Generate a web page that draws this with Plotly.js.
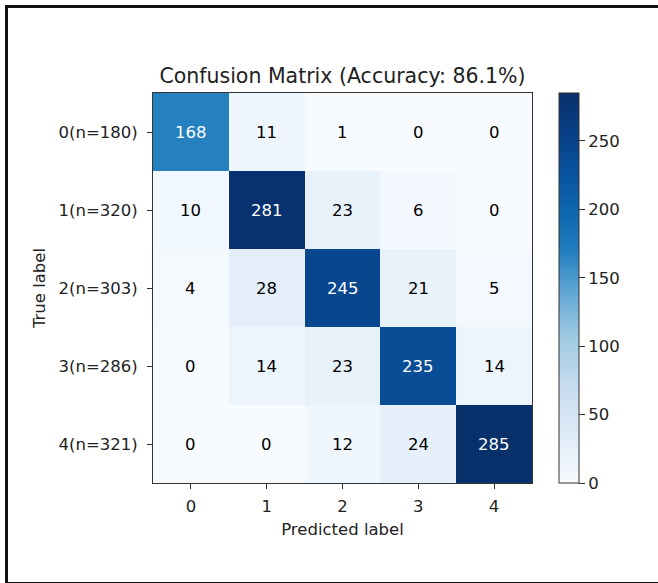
<!DOCTYPE html>
<html>
<head>
<meta charset="utf-8">
<script src="https://cdn.plot.ly/plotly-3.0.1.min.js"></script>
<style>
  html, body { margin: 0; padding: 0; background: #fff; }
  #wrap { position: relative; width: 658px; height: 583px; }
  #frame { position: absolute; left: 5px; top: 5px; width: 660px; height: 574px;
           border-left: 3px solid #111; border-top: 3px solid #111; border-bottom: 3px solid #111;
           pointer-events: none; z-index: 10; }
  #chart { position: absolute; left: 0; top: 0; width: 658px; height: 583px; }
</style>
</head>
<body>
<div id="wrap">
  <div id="chart"></div>
  <div id="frame"></div>
</div>
<script>
// Data
const predictedLabels = ["0", "1", "2", "3", "4"];
const trueLabels = ["0(n=180)", "1(n=320)", "2(n=303)", "3(n=286)", "4(n=321)"];
const row0 = [168, 11, 1, 0, 0];
const row1 = [10, 281, 23, 6, 0];
const row2 = [4, 28, 245, 21, 5];
const row3 = [0, 14, 23, 235, 14];
const row4 = [0, 0, 12, 24, 285];
const matrix = [row0, row1, row2, row3, row4];
const titleText = "Confusion Matrix (Accuracy: 86.1%)";
const colorbarTicks = [0, 50, 100, 150, 200, 250];

const blues = [
  [0.0, "#f7fbff"], [0.125, "#deebf7"], [0.25, "#c6dbef"], [0.375, "#9ecae1"],
  [0.5, "#5ba3d3"], [0.6, "#1f7cbd"], [0.7, "#0e66ad"], [0.8, "#08519c"],
  [0.9, "#083f85"], [1.0, "#08306b"]
];

let zmax = 0;
matrix.forEach(r => r.forEach(v => { if (v > zmax) zmax = v; }));
const thresh = zmax / 2;

const FONT = "DejaVu Sans";
const FS = 16.5;
const TXT = "#222";

const annotations = [];
matrix.forEach((r, i) => r.forEach((v, j) => {
  annotations.push({
    x: predictedLabels[j], y: trueLabels[i], xref: "x", yref: "y",
    text: String(v), showarrow: false,
    font: { family: FONT, size: FS, color: v > thresh ? "#ffffff" : "#000000" }
  });
}));

const trace = {
  type: "heatmap",
  x: predictedLabels,
  y: trueLabels,
  z: matrix,
  zmin: 0, zmax: zmax,
  colorscale: blues,
  xgap: 0, ygap: 0,
  hoverinfo: "skip",
  colorbar: {
    x: 1.071, xanchor: "left", xref: "paper",
    y: 0.5, yanchor: "middle", len: 1, lenmode: "fraction",
    thickness: 20, thicknessmode: "pixels",
    outlinewidth: 1, outlinecolor: "#333",
    tickvals: colorbarTicks, ticks: "outside", ticklen: 6, tickwidth: 1, tickcolor: "#333",
    tickfont: { family: FONT, size: FS, color: TXT },
    xpad: 0, ypad: 0
  }
};

const layout = {
  width: 658, height: 583,
  margin: { l: 153, r: 126, t: 93, b: 100, pad: 0 },
  paper_bgcolor: "#ffffff", plot_bgcolor: "#ffffff",
  title: {
    text: titleText, font: { family: FONT, size: 20.5, color: TXT },
    x: 0.5, xanchor: "center", xref: "paper", y: 1 - 76 / 583, yanchor: "middle"
  },
  xaxis: {
    type: "category", side: "bottom",
    title: { text: "Predicted label", font: { family: FONT, size: FS, color: TXT }, standoff: 8 },
    tickfont: { family: FONT, size: FS, color: TXT },
    ticks: "outside", ticklen: 5, tickwidth: 1, tickcolor: "#333", ticklabelstandoff: 3,
    showline: true, linecolor: "#333", linewidth: 1, mirror: true,
    showgrid: false, zeroline: false, fixedrange: true
  },
  yaxis: {
    type: "category", autorange: "reversed",
    title: { text: "True label", font: { family: FONT, size: FS, color: TXT }, standoff: 8 },
    tickfont: { family: FONT, size: FS, color: TXT },
    ticks: "outside", ticklen: 5, tickwidth: 1, tickcolor: "#333", ticklabelstandoff: 6,
    showline: true, linecolor: "#333", linewidth: 1, mirror: true,
    showgrid: false, zeroline: false, fixedrange: true
  },
  annotations: annotations
};

Plotly.newPlot("chart", [trace], layout, { displayModeBar: false, staticPlot: true });
</script>
</body>
</html>
